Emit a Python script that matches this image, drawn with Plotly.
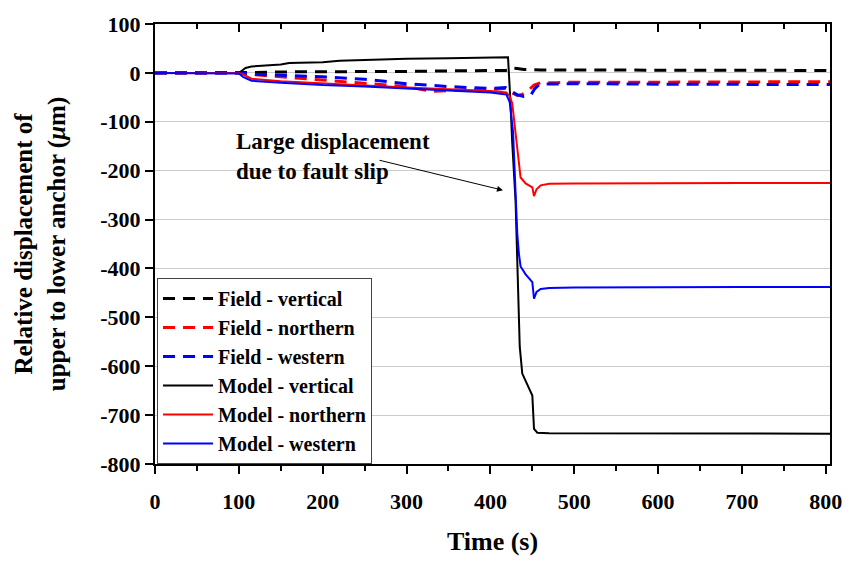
import plotly.graph_objects as go

# ---- data ----
t_fv = [0, 50, 100, 120, 150, 200, 250, 300, 350, 400, 418, 422, 426, 432, 440, 460, 500, 600, 700, 805]
v_fv = [0, 0, 0, 1, 2, 2, 3, 3, 4, 4, 5, 6, 10, 9, 7, 6, 6, 5, 5, 5]

t_fn = [0, 50, 100, 120, 150, 200, 250, 300, 330, 350, 400, 418, 425, 432, 438, 445, 452, 460, 480, 500, 600, 700, 805]
v_fn = [0, 0, 0, -4, -8, -14, -20, -28, -38, -36, -34, -32, -40, -46, -44, -36, -25, -20, -20, -19, -19, -18, -18]

t_fw = [0, 50, 100, 120, 150, 200, 250, 300, 350, 400, 418, 425, 432, 440, 448, 453, 458, 465, 480, 500, 600, 700, 805]
v_fw = [0, 0, 0, -3, -5, -8, -13, -22, -28, -32, -30, -38, -45, -48, -46, -32, -24, -23, -22, -22, -23, -24, -24]

t_mv = [0, 50, 100, 104, 108, 115, 130, 150, 160, 200, 220, 250, 300, 350, 400, 421, 424, 426, 430, 433, 435, 438, 445, 450, 452, 456, 470, 500, 600, 700, 805]
v_mv = [0, 0, 0, 5, 10, 13, 15, 17, 20, 22, 25, 27, 29, 30, 31, 32, -62, -142, -262, -462, -560, -615, -640, -660, -728, -736, -737, -737, -738, -738, -738]

t_mn = [0, 100, 105, 115, 150, 200, 250, 300, 350, 400, 419, 423, 426, 429, 432, 434, 436, 442, 450, 452, 455, 460, 470, 500, 600, 700, 805]
v_mn = [0, 0, -3, -12, -17, -22, -26, -30, -33, -37, -40, -48, -62, -110, -162, -195, -214, -226, -234, -252, -238, -230, -227, -226, -225, -225, -225]

t_mw = [0, 100, 105, 115, 150, 200, 250, 300, 350, 400, 419, 423, 427, 430, 432, 434, 436, 442, 450, 452, 455, 460, 470, 500, 600, 700, 805]
v_mw = [0, -1, -8, -16, -20, -25, -28, -32, -36, -40, -44, -60, -120, -250, -328, -370, -396, -412, -428, -462, -448, -442, -440, -439, -438, -438, -438]

names = ["Field - vertical", "Field - northern", "Field - western",
         "Model - vertical", "Model - northern", "Model - western"]

x_ticks = [0, 100, 200, 300, 400, 500, 600, 700, 800]
y_ticks = [-800, -700, -600, -500, -400, -300, -200, -100, 0, 100]
y_ticktext = ["-800", "-700", "-600", "-500", "-400", "-300", "-200", "-100", "0", "100"]

FONT = "Liberation Serif"
BLACK, RED, BLUE = "#000000", "#ff0000", "#0000ff"

fig = go.Figure()
series = [
    (t_fv, v_fv, names[0], BLACK, True),
    (t_fn, v_fn, names[1], RED, True),
    (t_fw, v_fw, names[2], BLUE, True),
    (t_mv, v_mv, names[3], BLACK, False),
    (t_mn, v_mn, names[4], RED, False),
    (t_mw, v_mw, names[5], BLUE, False),
]
for t, v, n, c, dashed in series:
    fig.add_trace(go.Scatter(
        x=t, y=v, name=n, mode="lines",
        line=dict(color=c, width=3 if dashed else 2,
                  dash="12px,8px" if dashed else "solid"),
    ))

# invisible trace on top axis for inward ticks
fig.add_trace(go.Scatter(x=[0, 805], y=[None, None], xaxis="x2",
                         showlegend=False, hoverinfo="skip"))

minor_x = [50, 150, 250, 350, 450, 550, 650, 750]

fig.update_layout(
    width=854, height=563,
    margin=dict(l=155, r=16, t=19, b=94),
    plot_bgcolor="white", paper_bgcolor="white",
    font=dict(family=FONT, color="black", weight="bold"),
    xaxis=dict(
        range=[0, 805], tickvals=x_ticks,
        showline=True, linecolor="black", linewidth=2, mirror=True,
        ticks="outside", ticklen=8, tickwidth=2, tickcolor="black",
        minor=dict(tickvals=minor_x, ticks="outside",
                   ticklen=5, tickwidth=2, tickcolor="black"),
        showgrid=False, zeroline=False,
        tickfont=dict(size=22, family=FONT, weight="bold"),
        ticklabelstandoff=9,
        title=dict(text="Time (s)", font=dict(size=26, family=FONT, weight="bold"),
                   standoff=18),
    ),
    xaxis2=dict(
        overlaying="x", side="top", range=[0, 805],
        tickvals=x_ticks, showticklabels=False,
        ticks="inside", ticklen=8, tickwidth=2, tickcolor="black",
        minor=dict(tickvals=minor_x, ticks="inside",
                   ticklen=5, tickwidth=2, tickcolor="black"),
        showgrid=False, zeroline=False, showline=False,
    ),
    yaxis=dict(
        range=[-800, 100], tickvals=y_ticks, ticktext=y_ticktext,
        showline=True, linecolor="black", linewidth=2, mirror=True,
        ticks="outside", ticklen=8, tickwidth=2, tickcolor="black",
        showgrid=True, gridcolor="#cccccc", gridwidth=1, zeroline=False,
        tickfont=dict(size=22, family=FONT, weight="bold"),
        title=dict(text="Relative displacement of<br>upper to lower anchor (<i>μ</i>m)",
                   font=dict(size=25, family=FONT, weight="bold"), standoff=28),
    ),
    legend=dict(
        x=0.003, y=0, xanchor="left", yanchor="bottom",
        bgcolor="white", bordercolor="#444444", borderwidth=1,
        font=dict(size=20, family=FONT, weight="bold", color="black"),
        itemwidth=50, tracegroupgap=0,
    ),
    showlegend=True,
)

fig.add_annotation(
    x=94, y=-172, xref="x", yref="y", xanchor="left", yanchor="middle",
    align="left", showarrow=False,
    text="Large displacement<br>due to fault slip",
    font=dict(size=23, family=FONT, weight="bold", color="black"),
)
fig.add_annotation(
    x=415, y=-240, xref="x", yref="y", ax=266, ay=-178, axref="x", ayref="y",
    text="", showarrow=True, arrowhead=2, arrowsize=1.2, arrowwidth=1,
    arrowcolor="black",
)

fig.write_html("out.html")
